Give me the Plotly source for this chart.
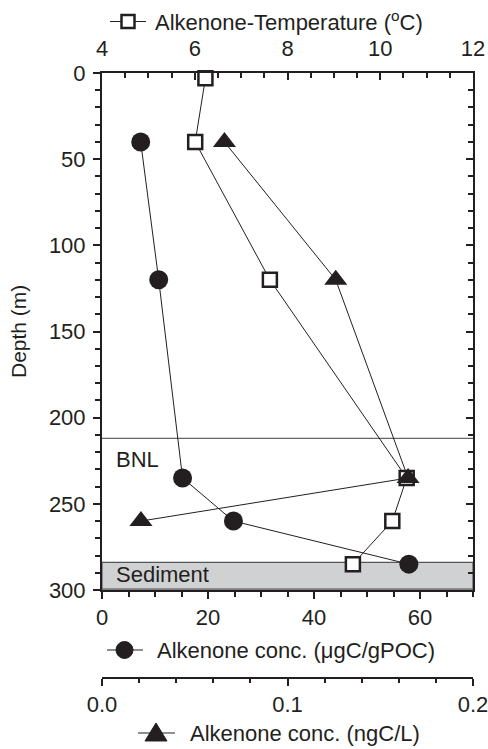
import plotly.graph_objects as go

# ---- data ----
depth_circle = [40, 120, 235, 260, 285]
conc_pOC = [7.3, 10.7, 15.2, 24.8, 57.9]          # μgC/gPOC

depth_square = [3, 40, 120, 235, 260, 285]
temperature = [6.23, 6.01, 7.62, 10.57, 10.26, 9.41]  # °C

depth_tri = [40, 120, 235, 260]
conc_L = [0.066, 0.126, 0.165, 0.021]              # ngC/L

bnl_depth = 212
sediment_top = 284

W, H = 488, 749
L, R, T, B = 102, 15, 73, 71
PW = W - L - R
PH = H - T - B
PLOT_BOTTOM = 590
FONT = "Liberation Sans, Arial, sans-serif"
INK = "#231f20"


def px_x(p):
    return (p - L) / PW


def px_y(p):
    return (H - B - p) / PH


fig = go.Figure()

fig.add_trace(go.Scatter(
    x=conc_pOC, y=depth_circle, xaxis="x", yaxis="y", mode="lines+markers",
    line=dict(color=INK, width=1),
    marker=dict(symbol="circle", size=19, color=INK),
    showlegend=False, cliponaxis=False))

fig.add_trace(go.Scatter(
    x=temperature, y=depth_square, xaxis="x2", yaxis="y", mode="lines+markers",
    line=dict(color=INK, width=1),
    marker=dict(symbol="square", size=14, color="white", line=dict(color=INK, width=2.5)),
    showlegend=False, cliponaxis=False))

fig.add_trace(go.Scatter(
    x=conc_L, y=depth_tri, xaxis="x3", yaxis="y", mode="lines+markers",
    line=dict(color=INK, width=1),
    marker=dict(symbol="triangle-up", size=20, color=INK),
    showlegend=False, cliponaxis=False))

# dummy trace so the right-hand axis is drawn
fig.add_trace(go.Scatter(x=[None], y=[None], xaxis="x", yaxis="y2", showlegend=False))

tickfont = dict(family=FONT, size=22, color=INK)
ydom0 = px_y(PLOT_BOTTOM)

fig.update_layout(
    width=W, height=H,
    margin=dict(l=L, r=R, t=T, b=B, autoexpand=False),
    paper_bgcolor="white", plot_bgcolor="white",
    font=dict(family=FONT, size=22, color=INK),
    xaxis=dict(range=[0, 70], dtick=20, tick0=0, ticks="outside", ticklen=7, tickwidth=1.5,
               tickcolor=INK, showline=True, linecolor=INK, linewidth=2, showgrid=False,
               zeroline=False, tickfont=tickfont, anchor="y", automargin=False,
               minor=dict(dtick=5, ticks="outside", ticklen=5, tickcolor=INK, tickwidth=1.5, showgrid=False)),
    xaxis2=dict(range=[4, 12], dtick=2, tick0=4, ticks="inside", ticklen=7, tickwidth=1.5,
                tickcolor=INK, showline=True, linecolor=INK, linewidth=2, showgrid=False,
                zeroline=False, tickfont=tickfont, side="top", overlaying="x", anchor="y",
                ticklabelstandoff=6, automargin=False, ticklabeloverflow="allow",
                minor=dict(dtick=0.5, ticks="inside", ticklen=5, tickcolor=INK, tickwidth=1.5, showgrid=False)),
    xaxis3=dict(range=[0, 0.2], dtick=0.1, tick0=0, tickformat=".1f", ticks="outside", ticklen=7,
                tickwidth=1.5, tickcolor=INK, showline=True, linecolor=INK, linewidth=1.5,
                showgrid=False, zeroline=False, tickfont=tickfont, overlaying="x",
                anchor="free", position=0, side="bottom", automargin=False,
                ticklabeloverflow="allow",
                minor=dict(dtick=0.02, ticks="outside", ticklen=4, tickcolor=INK, tickwidth=1.5, showgrid=False)),
    yaxis=dict(range=[300, 0], domain=[ydom0, 1], dtick=50, tick0=0, ticks="outside", ticklen=7,
               tickwidth=1.5, tickcolor=INK, showline=True, linecolor=INK, linewidth=2,
               showgrid=False, zeroline=False, tickfont=tickfont, anchor="x",
               ticklabelstandoff=3, automargin=False,
               minor=dict(dtick=10, ticks="outside", ticklen=5, tickcolor=INK, tickwidth=1.5, showgrid=False)),
    yaxis2=dict(range=[300, 0], dtick=50, tick0=0, ticks="inside", ticklen=7, tickwidth=1.5,
                tickcolor=INK, showline=True, linecolor=INK, linewidth=2, showgrid=False,
                zeroline=False, showticklabels=False, overlaying="y", side="right", anchor="x",
                automargin=False,
                minor=dict(dtick=10, ticks="inside", ticklen=5, tickcolor=INK, tickwidth=1.5, showgrid=False)),
)

shapes = []
# sediment band
shapes.append(dict(type="rect", xref="x", yref="y", x0=0, x1=70, y0=sediment_top, y1=299.5,
                   fillcolor="#d0d1d3", line=dict(color="#555555", width=1.2), layer="below"))
# BNL line
shapes.append(dict(type="line", xref="x", yref="y", x0=0, x1=70, y0=bnl_depth, y1=bnl_depth,
                   line=dict(color="#666666", width=1.2), layer="below"))

# legend glyphs
# square (temperature)
cy = 21.5
shapes.append(dict(type="line", xref="paper", yref="paper", x0=px_x(110), x1=px_x(146),
                   y0=px_y(cy), y1=px_y(cy), line=dict(color=INK, width=1.2)))
shapes.append(dict(type="rect", xref="paper", yref="paper", x0=px_x(121.5), x1=px_x(134.5),
                   y0=px_y(cy - 6.5), y1=px_y(cy + 6.5), fillcolor="white",
                   line=dict(color=INK, width=2.5)))
# circle (μgC/gPOC)
cy = 650
shapes.append(dict(type="line", xref="paper", yref="paper", x0=px_x(107), x1=px_x(143),
                   y0=px_y(cy), y1=px_y(cy), line=dict(color=INK, width=1.2)))
shapes.append(dict(type="circle", xref="paper", yref="paper", x0=px_x(116), x1=px_x(133),
                   y0=px_y(cy - 8.5), y1=px_y(cy + 8.5), fillcolor=INK, line=dict(color=INK, width=1)))
# triangle (ngC/L)
cy = 733
shapes.append(dict(type="line", xref="paper", yref="paper", x0=px_x(138), x1=px_x(175),
                   y0=px_y(cy), y1=px_y(cy), line=dict(color=INK, width=1.2)))
tx, ty = 156, 733
path = "M {:.5f},{:.5f} L {:.5f},{:.5f} L {:.5f},{:.5f} Z".format(
    px_x(tx - 11), px_y(ty + 8), px_x(tx + 11), px_y(ty + 8), px_x(tx), px_y(ty - 10))
shapes.append(dict(type="path", xref="paper", yref="paper", path=path, fillcolor=INK,
                   line=dict(color=INK, width=1)))
fig.update_layout(shapes=shapes)

ann = []
ann.append(dict(text="Alkenone-Temperature (<sup>o</sup>C)", xref="paper", yref="paper",
                x=px_x(153), y=px_y(21.5), xanchor="left", yanchor="middle", showarrow=False,
                font=dict(family=FONT, size=22, color=INK)))
ann.append(dict(text="Alkenone conc. (μgC/gPOC)", xref="paper", yref="paper",
                x=px_x(155), y=px_y(650), xanchor="left", yanchor="middle", showarrow=False,
                font=dict(family=FONT, size=22, color=INK)))
ann.append(dict(text="Alkenone conc. (ngC/L)", xref="paper", yref="paper",
                x=px_x(188), y=px_y(733), xanchor="left", yanchor="middle", showarrow=False,
                font=dict(family=FONT, size=22, color=INK)))
ann.append(dict(text="Depth (m)", xref="paper", yref="paper", textangle=-90,
                x=px_x(19), y=px_y(332), xanchor="center", yanchor="middle", showarrow=False,
                font=dict(family=FONT, size=21, color=INK)))
ann.append(dict(text="BNL", xref="x", yref="y", x=2.2, y=224.5, xanchor="left", yanchor="middle",
                showarrow=False, font=dict(family=FONT, size=22, color=INK)))
ann.append(dict(text="Sediment", xref="x", yref="y", x=2.2, y=291, xanchor="left", yanchor="middle",
                showarrow=False, font=dict(family=FONT, size=22, color=INK)))
fig.update_layout(annotations=ann)

fig.write_html("out.html", config={"displayModeBar": False},
               post_script="document.body.style.margin='0';")
